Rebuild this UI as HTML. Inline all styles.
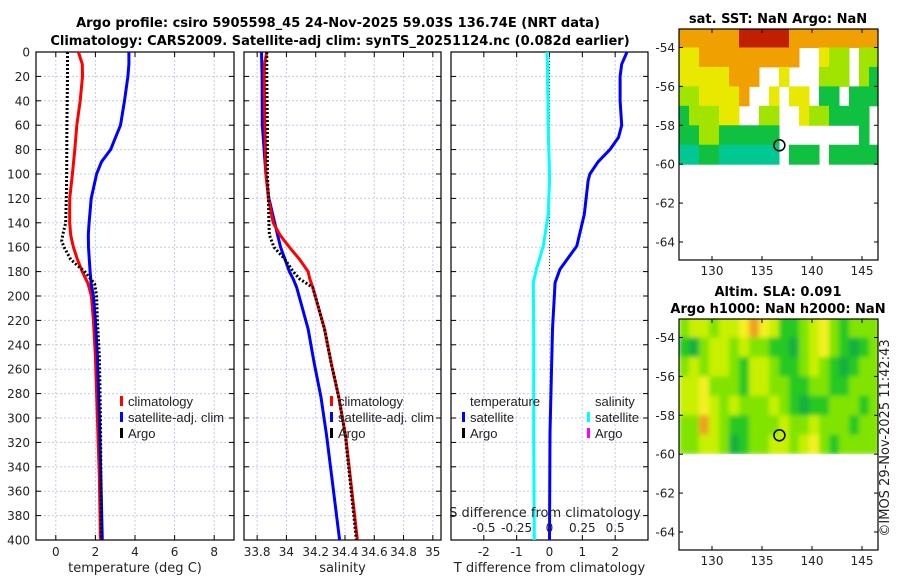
<!DOCTYPE html>
<html><head><meta charset="utf-8"><style>
body{margin:0;background:#fff;}
svg{display:block;font-family:"DejaVu Sans","Liberation Sans",sans-serif;}
.lib{font-family:"Liberation Sans","DejaVu Sans",sans-serif;}
</style></head><body>
<svg id="c" width="900" height="580" viewBox="0 0 900 580">
<text x="338" y="27" text-anchor="middle" font-size="13" font-weight="bold">Argo profile: csiro 5905598_45 24-Nov-2025 59.03S 136.74E (NRT data)</text>
<text x="340" y="45" text-anchor="middle" font-size="13" font-weight="bold">Climatology: CARS2009. Satellite-adj clim: synTS_20251124.nc (0.082d earlier)</text>
<text x="778" y="23" text-anchor="middle" font-size="13" font-weight="bold">sat. SST: NaN Argo: NaN</text>
<text x="778" y="296" text-anchor="middle" font-size="13" font-weight="bold">Altim. SLA: 0.091</text>
<text x="778" y="313" text-anchor="middle" font-size="13" font-weight="bold">Argo h1000: NaN h2000: NaN</text>
<text transform="translate(889,438) rotate(-90)" text-anchor="middle" font-size="13" fill="#222">©IMOS 29-Nov-2025 11:42:43</text>
</svg>
<script>
const depths=[0,10,20,40,60,80,90,100,120,140,150,160,170,180,190,200,220,250,300,350,400];
const tempClim=[1.14,1.34,1.35,1.23,1.06,0.96,0.9,0.84,0.70,0.70,0.75,0.89,1.09,1.34,1.63,1.80,1.90,2.00,2.10,2.20,2.25];
const tempSat=[3.69,3.69,3.64,3.47,3.27,2.77,2.31,2.06,1.79,1.68,1.64,1.65,1.69,1.73,1.79,1.90,2.00,2.10,2.20,2.28,2.35];
const argoDepths=[0,20,60,100,120,140,150,155,160,170,175,180,190,200,220,250,300,400];
const tempArgo=[0.59,0.59,0.56,0.55,0.53,0.50,0.35,0.30,0.42,0.75,1.09,1.46,1.96,2.06,2.10,2.20,2.26,2.30];
const salDepths=[0,10,20,60,100,120,140,150,160,170,180,186,193,227,255,283,315,400];
const salClim=[33.866,33.85,33.848,33.853,33.86,33.877,33.91,33.956,34.02,34.09,34.148,34.16,34.18,34.26,34.306,34.358,34.405,34.485];
const salSat=[33.83,33.832,33.834,33.835,33.86,33.88,33.92,33.94,33.96,33.99,34.02,34.046,34.07,34.148,34.19,34.236,34.275,34.363];
const salArgo=[33.866,33.866,33.866,33.87,33.87,33.877,33.88,33.884,33.915,33.99,34.046,34.09,34.18,34.26,34.306,34.358,34.403,34.478];
const diffDepths=[0,10,20,40,60,70,80,90,100,105,133,159,178,189,227,312,400];
const tDiffSat=[2.36,2.2,2.15,2.15,2.2,2.1,1.84,1.48,1.23,1.18,1.06,0.83,0.32,0.17,0.09,0.015,0.0];
const sDiffSat=[-0.02,-0.015,-0.015,-0.012,-0.01,-0.008,-0.005,-0.002,0.0,0.0,-0.01,-0.047,-0.10,-0.123,-0.12,-0.12,-0.116];
const tTicks=[0,2,4,6,8];
const sTicks=[33.8,34,34.2,34.4,34.6,34.8,35];
const dTicksT=[-2,-1,0,1,2];
const dTicksS=[-0.5,-0.25,0,0.25,0.5];
const dTickLabelsS=["-0.5","-0.25","0","0.25","0.5"];
const depthTicks=[0,20,40,60,80,100,120,140,160,180,200,220,240,260,280,300,320,340,360,380,400];
const lonTicks=[130,135,140,145];
const latTicks=[-54,-56,-58,-60,-62,-64];
const sstGrid=[
[4,4,4,4,4,4,5,5,5,5,5,4,4,4,4,4,4,4,4,4],
[3,3,4,4,4,4,4,4,4,4,4,4,-1,-1,3,2,2,-1,2,2],
[3,3,3,3,3,4,4,4,-1,-1,3,-1,-1,-1,2,2,2,-1,2,1],
[2,2,3,3,3,3,4,-1,-1,3,-1,3,3,-1,1,1,-1,1,1,1],
[1,2,2,2,3,3,-1,-1,2,2,-1,-1,3,2,2,1,1,1,1,-1],
[1,1,2,2,1,1,1,1,1,1,-1,-1,-1,-1,-1,-1,-1,-1,1,-1],
[0,0,1,1,0,0,0,0,0,0,-1,1,1,1,-1,1,1,1,1,1]];
const slaGrid=[
[1,2,2,1,2,2,3,4,3,2,0,0,1,2,3,1,0,1,1,1],
[0,-1,1,2,2,1,2,1,1,0,0,-1,1,2,3,1,0,-1,0,1],
[1,2,1,2,2,1,0,2,2,1,0,0,1,2,1,0,-1,0,1,1],
[2,2,3,1,1,1,0,2,2,1,1,0,0,1,1,0,0,1,1,1],
[2,2,3,2,1,2,1,1,1,2,1,0,-1,0,0,1,1,1,0,1],
[1,1,4,2,1,0,0,1,1,1,2,1,1,2,1,1,1,0,1,1],
[1,1,2,2,1,-1,0,1,1,2,2,1,2,3,1,0,1,1,1,1]];
const floatLon=136.74, floatLat=-59.03;

const NS='http://www.w3.org/2000/svg';
const svg=document.getElementById('c');
function mk(tag,attrs,parent){const e=document.createElementNS(NS,tag);for(const k in attrs)e.setAttribute(k,attrs[k]);(parent||svg).appendChild(e);return e;}
const Y0=52,Y1=540;
function yD(d){return Y0+(d/400)*(Y1-Y0);}
function lin(d0,d1,r0,r1){return v=>r0+(v-d0)/(d1-d0)*(r1-r0);}
const panels=[
 {x0:36,x1:234,sc:lin(-1,9,36,234),ticks:tTicks,lab:tTicks.map(String),title:'temperature (deg C)',name:'temperature'},
 {x0:244,x1:441,sc:lin(33.7102,35.0559,244,441),ticks:sTicks,lab:sTicks.map(String),title:'salinity',name:'salinity'},
 {x0:451,x1:648,sc:lin(-3,3,451,648),ticks:dTicksT,lab:dTicksT.map(String),title:'T difference from climatology',name:'difference'}];
panels.forEach((p,pi)=>{
 const g=mk('g',{});
 
 
 depthTicks.forEach(d=>{const l=mk('line',{x1:p.x0,x2:p.x1,y1:yD(d),y2:yD(d),stroke:'#c5cbe8','stroke-width':1,'stroke-dasharray':'2,2'},g);
  mk('line',{x1:p.x0,x2:p.x0+5,y1:yD(d),y2:yD(d),stroke:'#000'},g);mk('line',{x1:p.x1-5,x2:p.x1,y1:yD(d),y2:yD(d),stroke:'#000'},g);});
 p.ticks.forEach((t,i)=>{const x=p.sc(t);const l=mk('line',{x1:x,x2:x,y1:Y0,y2:Y1,stroke:'#c5cbe8','stroke-dasharray':'2,2'},g);
  mk('line',{x1:x,x2:x,y1:Y1-5,y2:Y1,stroke:'#000'},g);mk('line',{x1:x,x2:x,y1:Y0,y2:Y0+5,stroke:'#000'},g);
  const tx=mk('text',{x:x,y:556,'text-anchor':'middle','font-size':12,fill:'#222'},g);tx.textContent=p.lab[i];});
 const r=mk('rect',{x:p.x0,y:Y0,width:p.x1-p.x0,height:Y1-Y0,fill:'none',stroke:'#000','stroke-width':1.2},g);
 
 const t=mk('text',{x:(p.x0+p.x1)/2,y:572,'text-anchor':'middle','font-size':13,fill:'#222'},g);t.textContent=p.title;
 
});
depthTicks.forEach(d=>{const t=mk('text',{x:30,y:yD(d)+4.5,'text-anchor':'end','font-size':12,fill:'#222'});t.textContent=String(d);});
function line(xs,ds,sc,color,w,dash,name){
 const pts=xs.map((v,i)=>sc(v).toFixed(1)+','+yD(ds[i]).toFixed(1)).join(' ');
 const a={points:pts,fill:'none',stroke:color,'stroke-width':w,'stroke-linejoin':'round'};if(dash)a['stroke-dasharray']=dash;
 const e=mk('polyline',a);return e;}
const P=panels;
line(tempClim,depths,P[0].sc,'#f00',3,null,'temp-climatology-line');
line(tempSat,depths,P[0].sc,'#00f',3,null,'temp-satellite-line');
line(tempArgo,argoDepths,P[0].sc,'#000',3,'2,2','temp-argo-line');
line(salSat,salDepths,P[1].sc,'#00f',3,null,'sal-satellite-line');
line(salClim,salDepths,P[1].sc,'#f00',3,null,'sal-climatology-line');
line(salArgo,salDepths,P[1].sc,'#000',3,'2,2','sal-argo-line');
const zl=mk('line',{x1:P[2].sc(0),x2:P[2].sc(0),y1:yD(0),y2:yD(180),stroke:'#444','stroke-width':1,'stroke-dasharray':'1,2'});

const sSc=v=>P[2].sc(v*4);
line(sDiffSat,diffDepths,sSc,'#0ff',3,null,'sal-diff-satellite-line');
line(tDiffSat,diffDepths,P[2].sc,'#00f',3,null,'temp-diff-satellite-line');
dTicksS.forEach((s,i)=>{const t=mk('text',{x:sSc(s),y:532,'text-anchor':'middle','font-size':12,fill:'#222'});t.textContent=dTickLabelsS[i];});
const st=mk('text',{x:545,y:517,'text-anchor':'middle','font-size':13,fill:'#222'});st.textContent='S difference from climatology';

function leg(x,y,color,label,name){const g=mk('g',{});
 if(color)mk('rect',{x:x,y:y-10,width:3,height:10,fill:color},g);
 const t=mk('text',{x:x+8,y:y,'font-size':13,fill:'#222','class':'lib'},g);t.textContent=label;}
leg(120,406,'#f00','climatology','legend-climatology');
leg(120,422,'#00f','satellite-adj. clim','legend-satellite-adj');
leg(120,438,'#000','Argo','legend-argo');
leg(330,406,'#f00','climatology','legend-climatology-sal');
leg(330,422,'#00f','satellite-adj. clim','legend-satellite-adj-sal');
leg(330,438,'#000','Argo','legend-argo-sal');
leg(462,406,null,'temperature','legend-temperature-header');
leg(462,422,'#00f','satellite','legend-temp-satellite');
leg(462,438,'#000','Argo','legend-temp-argo');
leg(587,406,null,'salinity','legend-salinity-header');
leg(587,422,'#0ff','satellite','legend-sal-satellite');
leg(587,438,'#f0f','Argo','legend-sal-argo');

// maps
const sstColors={0:'#00c890',1:'#10c040',2:'#a0e400',3:'#e8e800',4:'#f0a000',5:'#c02000'};
const slaColors={'-1':'#18b040',0:'#28c820',1:'#80e400',2:'#c8f000',3:'#f4f020',4:'#f0a020'};
function map(top,grid,colors,name,blur){
 const L=679,R=878,B=top+231;
 const lonS=lin(126.7,146.6,L,R), latS=v=>top+(-53.05-v)*19.45;
 const g=mk('g',{});
 const cid=name+'-clip';const cp=mk('clipPath',{id:cid},g);mk('rect',{x:L,y:top,width:R-L,height:B-top},cp);
 const cells=mk('g',{'clip-path':'url(#'+cid+')'},g);
 if(blur){const f=mk('filter',{id:name+'-f',x:'-5%',y:'-5%',width:'110%',height:'110%'},g);mk('feGaussianBlur',{stdDeviation:2.5},f);}
 const inner=mk('g',blur?{filter:'url(#'+name+'-f)'}:{},cells);
 grid.forEach((row,r)=>row.forEach((v,c)=>{if(v===-1&&!blur)return;
  const x0=lonS(126.7+c),x1=lonS(127.7+c);const lat0=(r===0?-52.5:-53-r),lat1=-54-r;
  const rc=mk('rect',{x:x0,y:latS(lat0),width:x1-x0+0.5,height:latS(lat1)-latS(lat0)+0.5,fill:colors[v]},inner);
  }));
 if(blur)mk('rect',{x:L,y:latS(-60),width:R-L,height:B-latS(-60),fill:'#fff'},cells);
 const m=mk('ellipse',{cx:lonS(floatLon),cy:latS(floatLat),rx:5.5,ry:5.5,fill:'none',stroke:'#000','stroke-width':1.5},g);
 
 mk('rect',{x:L,y:top,width:R-L,height:B-top,fill:'none',stroke:'#000','stroke-width':1.2},g);
 lonTicks.forEach(v=>{const x=lonS(v);mk('line',{x1:x,x2:x,y1:B-4,y2:B,stroke:'#000'},g);mk('line',{x1:x,x2:x,y1:top,y2:top+4,stroke:'#000'},g);
  const t=mk('text',{x:x,y:B+15,'text-anchor':'middle','font-size':12,fill:'#222'},g);t.textContent=String(v);});
 latTicks.forEach(v=>{const y=latS(v);mk('line',{x1:L,x2:L+4,y1:y,y2:y,stroke:'#000'},g);mk('line',{x1:R-4,x2:R,y1:y,y2:y,stroke:'#000'},g);
  const t=mk('text',{x:L-4,y:y+4.5,'text-anchor':'end','font-size':12,fill:'#222'},g);t.textContent=String(v);});
}
map(29,sstGrid,sstColors,'sst-map',false);
map(319,slaGrid,slaColors,'sla-map',true);
</script>
</body></html>
